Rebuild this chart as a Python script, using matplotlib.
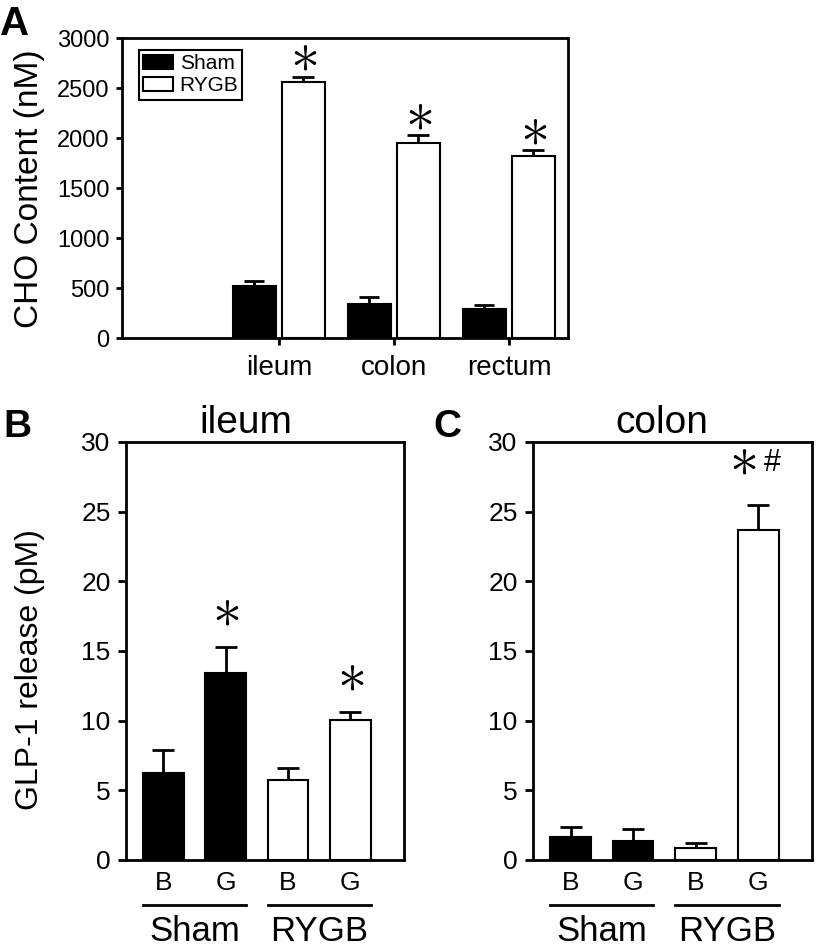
import matplotlib
matplotlib.use('Agg')
import matplotlib.pyplot as plt
import matplotlib.transforms as mtransforms
import numpy as np

plt.rcParams['font.family'] = ['Liberation Sans', 'DejaVu Sans']

# panel A: CHO content per gut segment
regions = ['ileum', 'colon', 'rectum']
sham_cho = [520, 340, 290]
sham_cho_err = [50, 70, 40]
rygb_cho = [2563, 1953, 1823]
rygb_cho_err = [50, 77, 57]

# panels B, C: GLP-1 release
conds = ['B', 'G', 'B', 'G']
groups = ['Sham', 'RYGB']
bar_fill = ['black', 'black', 'white', 'white']
ileum_glp1 = [6.26, 13.4, 5.75, 10.05]
ileum_err = [1.64, 1.85, 0.85, 0.55]
colon_glp1 = [1.68, 1.37, 0.89, 23.7]
colon_err = [0.67, 0.83, 0.36, 1.8]
ileum_star = [False, True, False, True]
colon_star = [False, False, False, True]

STAR = r'$\ast$'
STAR_FS = 42

fig = plt.figure(figsize=(8.17, 9.44), dpi=100)


def style_spines(ax):
    for s in ax.spines.values():
        s.set_linewidth(2)
        s.set_color('black')


def star(ax, xy, dx, dy):
    ax.annotate(STAR, xy=xy, xytext=(dx, dy), textcoords='offset points',
                ha='center', va='baseline', fontsize=STAR_FS, math_fontfamily='cm')


# ---------------- A ----------------
axA = fig.add_axes([0.1493, 0.6419, 0.5459, 0.3178])
x = np.arange(1, len(regions) + 1)
w = 0.38
off = 0.213
axA.bar(x - off, sham_cho, w, color='black', edgecolor='black', lw=1.5, label='Sham', zorder=2)
axA.bar(x + off, rygb_cho, w, color='white', edgecolor='black', lw=1.5, label='RYGB', zorder=2)
axA.errorbar(x - off, sham_cho, yerr=[np.zeros(len(x)), sham_cho_err], fmt='none',
             ecolor='black', elinewidth=2, capsize=7, capthick=2, zorder=1)
axA.errorbar(x + off, rygb_cho, yerr=[np.zeros(len(x)), rygb_cho_err], fmt='none',
             ecolor='black', elinewidth=2, capsize=8, capthick=2, zorder=1)
for xi, v, e in zip(x + off, rygb_cho, rygb_cho_err):
    star(axA, (xi, v + e), 0, 3.5)
axA.set_xlim(-0.365, 3.513)
axA.set_ylim(0, 3000)
axA.set_yticks(np.arange(0, 3001, 500))
axA.set_xticks(x)
axA.set_xticklabels(regions)
axA.tick_params(axis='y', direction='out', length=4, width=2, labelsize=17, pad=5)
axA.tick_params(axis='x', direction='out', length=5, width=2, labelsize=20, pad=7)
style_spines(axA)
leg = axA.legend(loc='upper left', bbox_to_anchor=(0.038, 0.96), fontsize=15,
                 frameon=True, fancybox=False, edgecolor='black', framealpha=1,
                 handlelength=1.45, handleheight=0.7, handletextpad=0.3,
                 borderpad=0.2, labelspacing=0.15, borderaxespad=0)
leg.get_frame().set_linewidth(1.5)
fig.text(0.0355, 0.7998, 'CHO Content (nM)', rotation=90, ha='center', va='center', fontsize=24)
fig.text(0.0, 1 - 35 / 944, 'A', fontsize=29, fontweight='bold', ha='left', va='baseline')


# ---------------- B, C ----------------
def glp_panel(rect, vals, errs, title, title_x):
    ax = fig.add_axes(rect)
    pos = np.arange(len(conds))
    bw = 0.65
    ax.bar(pos, vals, bw, color=bar_fill, edgecolor='black', lw=1.5, zorder=2)
    ax.errorbar(pos, vals, yerr=[np.zeros(len(pos)), errs], fmt='none',
                ecolor='black', elinewidth=2, capsize=8, capthick=2, zorder=1)
    ax.set_xlim(-0.6, 3.86)
    ax.set_ylim(0, 30)
    ax.set_yticks(np.arange(0, 31, 5))
    ax.set_xticks(pos)
    ax.set_xticklabels(conds)
    ax.tick_params(axis='y', direction='out', length=6, width=2, labelsize=19, pad=5)
    ax.tick_params(axis='x', length=0, labelsize=19, pad=8)
    style_spines(ax)
    ax.text(title_x, 1 + 9 / 418, title, transform=ax.transAxes, ha='center',
            va='baseline', fontsize=28)
    trans = mtransforms.blended_transform_factory(ax.transData, ax.transAxes)
    for gi, g in enumerate(groups):
        x0 = pos[2 * gi] - bw / 2
        x1 = pos[2 * gi + 1] + bw / 2
        ax.plot([x0, x1], [-0.108, -0.108], transform=trans, color='black', lw=2, clip_on=False)
        ax.text((x0 + x1) / 2, -0.193, g, transform=trans, ha='center', va='baseline', fontsize=25)
    return ax, pos


axB, posB = glp_panel([0.1542, 0.0890, 0.3403, 0.4428], ileum_glp1, ileum_err, 'ileum', 0.43)
for p, v, e, s in zip(posB, ileum_glp1, ileum_err, ileum_star):
    if s:
        star(axB, (p, v + e), 0, 15)

axC, posC = glp_panel([0.6524, 0.0890, 0.3415, 0.4428], colon_glp1, colon_err, 'colon', 0.46)
for p, v, e, s in zip(posC, colon_glp1, colon_err, colon_star):
    if s:
        star(axC, (p, v + e), -11, 21)
        axC.annotate('#', xy=(p, v + e), xytext=(10, 24), textcoords='offset points',
                     ha='center', va='baseline', fontsize=22)

fig.text(0.0367, 0.2903, 'GLP-1 release (pM)', rotation=90, ha='center', va='center', fontsize=23)
fig.text(0.004, 1 - 437 / 944, 'B', fontsize=28, fontweight='bold', ha='left', va='baseline')
fig.text(433 / 817, 1 - 437 / 944, 'C', fontsize=28, fontweight='bold', ha='left', va='baseline')

fig.savefig('out.png', dpi=100)
plt.close(fig)
